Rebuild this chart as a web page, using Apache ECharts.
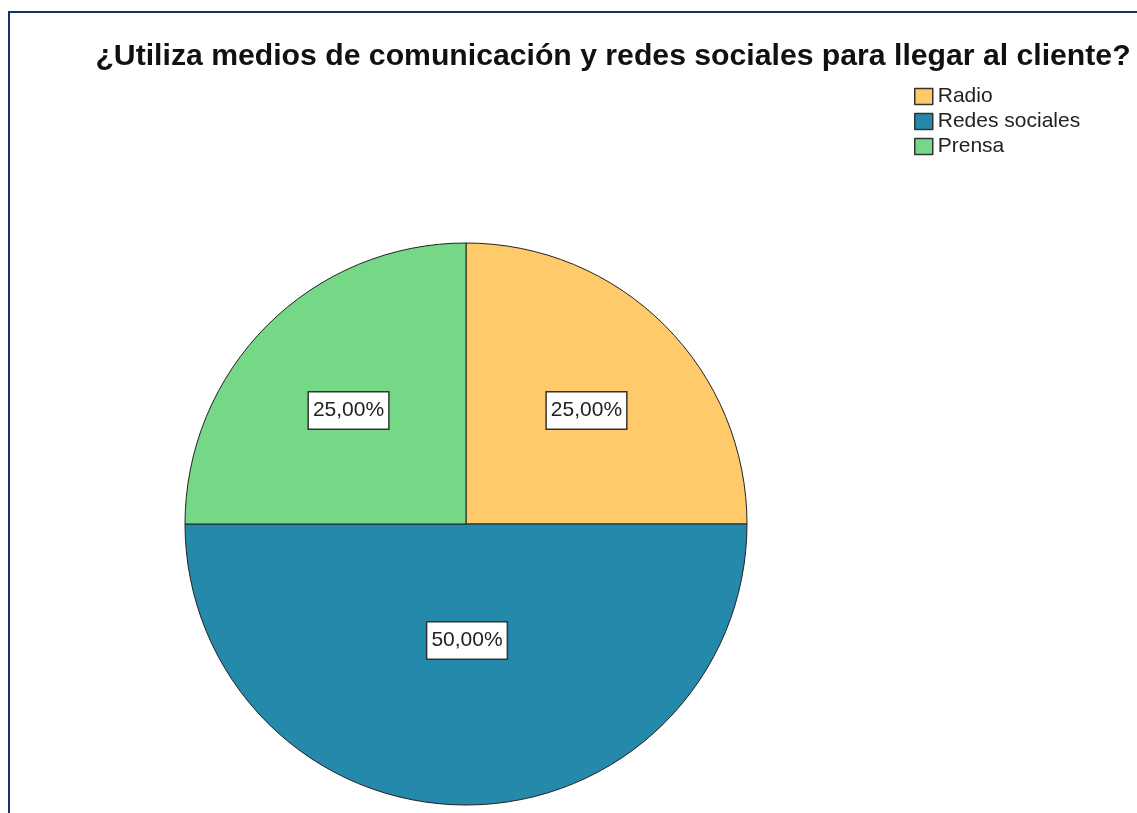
<!DOCTYPE html>
<html>
<head>
<meta charset="utf-8">
<script src="https://cdn.jsdelivr.net/npm/echarts@6/dist/echarts.min.js"></script>
<style>
html,body{margin:0;padding:0;background:#fff;}
#chart{width:1137px;height:813px;}
</style>
</head>
<body>
<div id="chart"></div>
<script>
const titleText = '¿Utiliza medios de comunicación y redes sociales para llegar al cliente?';
const categories = ['Radio', 'Redes sociales', 'Prensa'];
const values = [25, 50, 25];
const colors = ['#FECA6A', '#2589AB', '#74D886'];
const labelOffsets = [[19, -12], [1, -27], [-16, -12]];

const chart = echarts.init(document.getElementById('chart'), null, {renderer: 'canvas'});
const data = categories.map((c, i) => ({
  name: c,
  value: values[i],
  itemStyle: {color: colors[i]},
  label: {offset: labelOffsets[i]}
}));

chart.setOption({
  backgroundColor: '#ffffff',
  animation: false,
  title: {
    text: titleText,
    left: 608,
    textAlign: 'center',
    top: 37,
    textStyle: {fontFamily: 'Liberation Sans, Arial, sans-serif', fontWeight: 'bold', fontSize: 30.2, color: '#111'}
  },
  legend: {
    orient: 'vertical',
    left: 909,
    top: 81,
    itemWidth: 18,
    itemHeight: 16,
    itemGap: 4,
    icon: 'rect',
    data: categories,
    itemStyle: {borderColor: '#333', borderWidth: 1.5},
    textStyle: {fontFamily: 'Liberation Sans, Arial, sans-serif', fontSize: 21, color: '#222'}
  },
  graphic: [{
    type: 'rect',
    shape: {x: 9, y: 12, width: 1160, height: 830},
    style: {fill: 'none', stroke: '#14306E', lineWidth: 2},
    silent: true
  }],
  series: [{
    type: 'pie',
    center: [466, 524],
    radius: [0, 281],
    startAngle: 90,
    clockwise: true,
    data: data,
    itemStyle: {borderColor: '#222', borderWidth: 1},
    label: {
      show: true,
      position: 'inside',
      formatter: p => p.value.toFixed(2).replace('.', ',') + '%',
      fontFamily: 'Liberation Sans, Arial, sans-serif',
      fontSize: 21,
      color: '#222',
      backgroundColor: '#ffffff',
      borderColor: '#333',
      borderWidth: 1.5,
      padding: [8, 4, 7, 4]
    },
    labelLine: {show: false},
    emphasis: {disabled: true}
  }]
});
</script>
</body>
</html>
